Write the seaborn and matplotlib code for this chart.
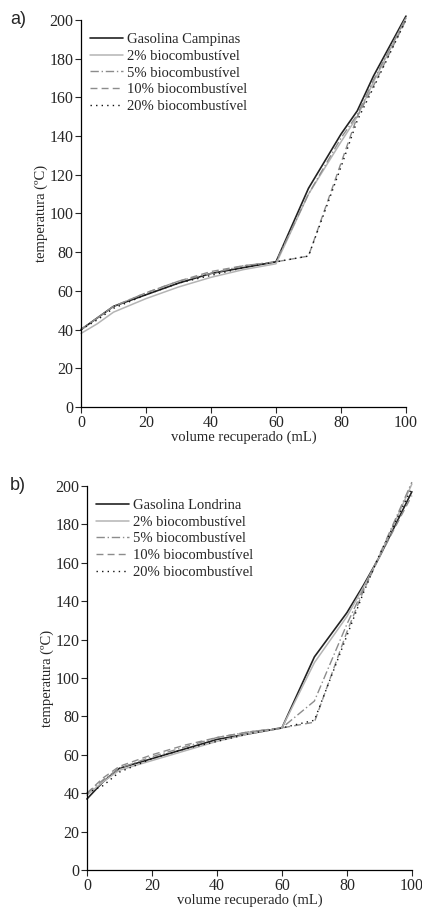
import pandas as pd
import matplotlib
matplotlib.use("Agg")
import matplotlib.pyplot as plt
import seaborn as sns

sns.set_style("ticks")
plt.rcParams['font.family'] = ['Liberation Serif', 'DejaVu Serif']

# volume recuperado (mL)
volume = [0, 5, 10, 20, 30, 40, 50, 60, 70, 80, 85, 90, 100]

# a) Campinas
campinas_base = [40, 46, 52, 58, 64, 69, 72, 75, 113, 141, 153, 171, 202]
campinas_2 = [38, 43, 49, 56, 62, 67, 71, 74, 110, 137, 150, 168, 201]
campinas_5 = [40, 46, 52, 59, 65, 69, 73, 75, 110, 139, 151, 169, 201]
campinas_10 = [40, 46, 52, 59, 65, 70, 73, 75, 78, 126, 150, 166, 200]
campinas_20 = [40, 45, 51, 58, 64, 68, 72, 75, 78, 124, 148, 165, 200]

# b) Londrina
londrina_base = [37, 46, 53, 58, 63, 68, 71, 74, 111, 134, 148, 163, 197]
londrina_2 = [39, 46, 52, 57, 62, 67, 71, 74, 108, 132, 147, 163, 201]
londrina_5 = [40, 47, 53, 59, 64, 69, 72, 74, 88, 128, 146, 164, 202]
londrina_10 = [40, 48, 54, 60, 65, 69, 72, 74, 77, 124, 145, 163, 195]
londrina_20 = [40, 44, 51, 58, 63, 67, 71, 74, 78, 122, 144, 164, 199]

labels_a = ['Gasolina Campinas', '2% biocombustível', '5% biocombustível',
            '10% biocombustível', '20% biocombustível']
labels_b = ['Gasolina Londrina', '2% biocombustível', '5% biocombustível',
            '10% biocombustível', '20% biocombustível']

styles = [
    dict(color='#222222', linestyle='-', linewidth=1.2),
    dict(color='#b4b4b4', linestyle='-', linewidth=1.1),
    dict(color='#8c8c8c', linestyle=(0, (6, 2, 1, 2)), linewidth=1.0),
    dict(color='#8c8c8c', linestyle=(0, (5, 3)), linewidth=1.0),
    dict(color='#111111', linestyle=(0, (1, 3)), linewidth=1.0),
]

fig = plt.figure(figsize=(4.22, 9.08), dpi=100)
ax_a = fig.add_axes([0.192, 0.5518, 0.770, 0.4262])
ax_b = fig.add_axes([0.206, 0.0418, 0.770, 0.4230])


def draw(ax, series, labels, tag, tag_x):
    for ys, lab, st in zip(series, labels, styles):
        df = pd.DataFrame({'x': volume, 'y': ys})
        sns.lineplot(data=df, x='x', y='y', ax=ax, label=lab, clip_on=False, **st)
    ax.set_xlim(0, 100)
    ax.set_ylim(0, 200)
    ax.set_xticks(range(0, 101, 20))
    ax.set_yticks(range(0, 201, 20))
    ax.tick_params(labelsize=11.5, length=4, width=0.8, pad=1.5)
    for s in ['top', 'right']:
        ax.spines[s].set_visible(False)
    for s in ['left', 'bottom']:
        ax.spines[s].set_linewidth(0.9)
        ax.spines[s].set_color('black')
    ax.set_xlabel('volume recuperado (mL)', fontsize=10.5, labelpad=0)
    ax.set_ylabel('temperatura (ºC)', fontsize=10.5, labelpad=1)
    ax.legend(loc='upper left', frameon=False, fontsize=10.5, handlelength=2.3,
              handletextpad=0.25, labelspacing=0.25, borderaxespad=0.2,
              bbox_to_anchor=(0.0, 0.99))
    ax.text(tag_x, 1.0, tag, transform=ax.transAxes, fontsize=13,
            family=['Liberation Sans', 'DejaVu Sans'], va='center', ha='left')


draw(ax_a, [campinas_base, campinas_2, campinas_5, campinas_10, campinas_20], labels_a, 'a)', -0.218)
draw(ax_b, [londrina_base, londrina_2, londrina_5, londrina_10, londrina_20], labels_b, 'b)', -0.236)

fig.savefig('out.png', dpi=100)
